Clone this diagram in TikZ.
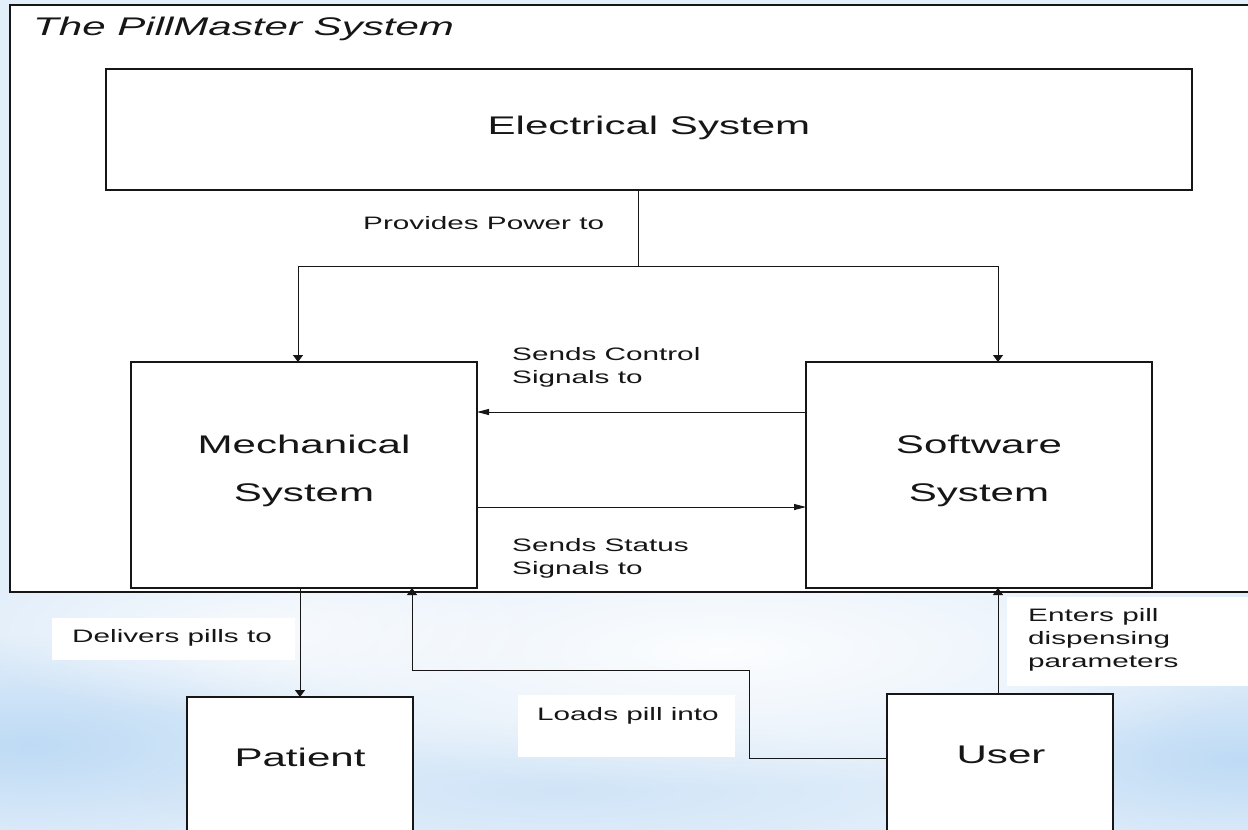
\documentclass[tikz,border=0pt]{standalone}
\usepackage{fontspec}
\setmainfont{Liberation Sans}[FakeStretch=1.65]
\usetikzlibrary{arrows.meta,fadings}
\definecolor{sky}{RGB}{226,238,250}
\definecolor{skydeep}{RGB}{190,219,245}
\definecolor{ink}{RGB}{22,22,22}
\tikzfading[name=softblob, inner color=transparent!0, outer color=transparent!100]
\tikzset{
  box/.style={draw=ink, line width=1.8pt, fill=white, rectangle, inner sep=0pt, outer sep=0pt},
  wire/.style={draw=ink, line width=1pt},
  arrv/.style={wire, -{Triangle[length=7pt,width=10pt]}},
  arrh/.style={wire, -{Triangle[length=12pt,width=6pt]}},
  bigtext/.style={font=\fontsize{25.5}{48}\selectfont, text=ink, inner sep=0pt, align=center},
  smalltext/.style={font=\fontsize{18}{23}\selectfont, text=ink, inner sep=0pt, align=left}
}
\begin{document}
\begin{tikzpicture}[x=1pt,y=-1pt]
\useasboundingbox (0,0) rectangle (1248,830);
\clip (0,0) rectangle (1248,830);

% sky backdrop with soft cloud bands
\fill[sky] (0,0) rectangle (1248,830);
\fill[skydeep, path fading=softblob] (30,745) ellipse (380 and 110);
\fill[skydeep, path fading=softblob] (1240,760) ellipse (330 and 100);
\fill[skydeep, path fading=softblob, opacity=0.5] (560,790) ellipse (420 and 70);
\fill[white, path fading=softblob, opacity=0.9] (720,650) ellipse (560 and 140);
\fill[white, path fading=softblob, opacity=0.7] (260,630) ellipse (300 and 90);

% system frame (open towards the right)
\fill[white] (10,5) rectangle (1260,592);
\draw[ink, line width=1.8pt] (1260,5) -- (10,5) -- (10,592) -- (1260,592);
\node[bigtext, font=\fontsize{25.5}{30}\selectfont\itshape, anchor=base west] (title) at (33,35) {The PillMaster System};

% blocks
\node[box, minimum width=1086pt, minimum height=121pt] (elec) at (649,129.5) {};
\node[box, minimum width=346pt, minimum height=226pt] (mech) at (304,475) {};
\node[box, minimum width=346pt, minimum height=226pt] (soft) at (979,475) {};
\node[box, minimum width=226pt, minimum height=170pt] (pat) at (300,782) {};
\node[box, minimum width=226pt, minimum height=170pt] (user) at (1000,779) {};

% block captions
\node[bigtext, anchor=base] (elect) at (649,134) {Electrical System};
\node[bigtext, anchor=base] (mecht) at (304,453) {Mechanical};
\node[bigtext, anchor=base] (mecht2) at (304,501) {System};
\node[bigtext, anchor=base] (softt) at (979,453) {Software};
\node[bigtext, anchor=base] (softt2) at (979,501) {System};
\node[bigtext, anchor=base] (patt) at (300,766) {Patient};
\node[bigtext, anchor=base] (usert) at (1001,763) {User};

% power distribution
\coordinate (pj) at (638,266);
\coordinate (pl) at (298,266);
\coordinate (pr) at (998,266);
\draw[wire] (elec.south -| pj) -- (pj);
\draw[wire] (pl) -- (pr);
\draw[arrv] (pl) -- (pl |- mech.north);
\draw[arrv] (pr) -- (pr |- soft.north);
\node[smalltext, anchor=base west] (powl) at (363,229) {Provides Power to};

% signals between mechanical and software
\coordinate (cy) at (0,412);
\coordinate (sy) at (0,507);
\draw[arrh] (soft.west |- cy) -- (mech.east |- cy);
\draw[arrh] (mech.east |- sy) -- (soft.west |- sy);
\node[smalltext, anchor=base west] (ctl) at (512,383) {Sends Control\\Signals to};
\node[smalltext, anchor=base west] (sts) at (512,574) {Sends Status\\Signals to};

% delivery to the patient
\draw[arrv] (mech.south -| pat.north) -- (pat.north);
\fill[white] (52,618) rectangle (295,660);
\node[smalltext, anchor=base west] (dlv) at (72,642) {Delivers pills to};

% user loads pills
\coordinate (la) at (749,758);
\coordinate (lb) at (749,670);
\coordinate (lc) at (412,670);
\draw[wire] (user.west |- la) -- (la) -- (lb) -- (lc);
\draw[arrv] (lc) -- (lc |- mech.south);
\fill[white] (518,695) rectangle (735,757);
\node[smalltext, anchor=base west] (ld) at (537,720) {Loads pill into};

% user enters parameters
\coordinate (ux) at (998,0);
\draw[arrv] (user.north -| ux) -- (ux |- soft.south);
\fill[white] (1007,597) rectangle (1260,686);
\node[smalltext, anchor=base west] (ent) at (1028,667) {Enters pill\\dispensing\\parameters};
\end{tikzpicture}
\end{document}
